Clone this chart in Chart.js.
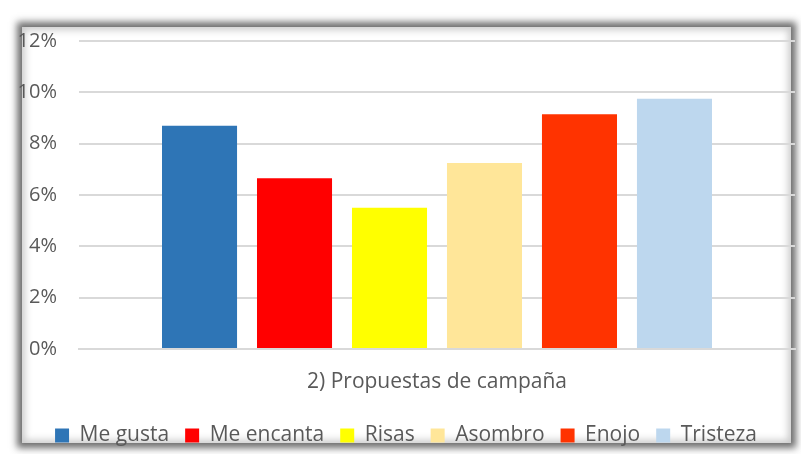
<!DOCTYPE html>
<html>
<head>
<meta charset="utf-8">
<script src="https://cdn.jsdelivr.net/npm/chart.js@4"></script>
<style>
  html, body { margin: 0; padding: 0; background: #fff; }
  #wrap { position: relative; width: 801px; height: 454px; overflow: hidden; }
  #frame {
    position: absolute; left: 22px; top: 27px; width: 769px; height: 416px;
    background: #fff;
    box-shadow: 0 0 7px 5px rgba(85,85,85,0.85), inset 0 0 7px 3px rgba(140,140,140,0.45);
  }
  #myChart { position: absolute; left: 0; top: 0; }
</style>
</head>
<body>
<div id="wrap">
  <div id="frame"></div>
  <canvas id="myChart" width="801" height="454"></canvas>
</div>
<script>
// datos (porcentajes)
const categories = ['2) Propuestas de campaña'];
const seriesNames = ['Me gusta', 'Me encanta', 'Risas', 'Asombro', 'Enojo', 'Tristeza'];
const seriesValues = [8.7, 6.65, 5.5, 7.25, 9.15, 9.75];
const seriesColors = ['#2E75B6', '#FF0000', '#FFFF00', '#FFE699', '#FF3300', '#BDD7EE'];
const yTicks = [0, 2, 4, 6, 8, 10, 12];

const txt = '#595959';
const fontFamily = '"Open Sans", "Liberation Sans", sans-serif';

const ctx = document.getElementById('myChart');

new Chart(ctx, {
  type: 'bar',
  data: {
    labels: categories,
    datasets: seriesNames.map((name, i) => ({
      label: name,
      data: [seriesValues[i]],
      backgroundColor: seriesColors[i],
      borderWidth: 0,
      categoryPercentage: 0.796,
      barPercentage: 0.79
    }))
  },
  options: {
    responsive: false,
    animation: false,
    layout: { padding: { left: 17, right: 6, top: 41, bottom: -2 } },
    scales: {
      x: {
        afterFit: axis => { axis.height = 60; },
        grid: { display: false, drawTicks: false },
        border: { display: true, color: '#d9d9d9', width: 2 },
        ticks: { color: txt, font: { family: fontFamily, size: 21 }, padding: 20.5 }
      },
      y: {
        min: 0,
        max: 12,
        afterBuildTicks: axis => { axis.ticks = yTicks.map(v => ({ value: v })); },
        afterFit: axis => { axis.width = 62; },
        grid: { color: '#d9d9d9', lineWidth: 2, drawTicks: false },
        border: { display: false },
        ticks: {
          color: txt,
          font: { family: fontFamily, size: 20 },
          padding: 22,
          callback: v => v + '%'
        }
      }
    },
    plugins: {
      legend: {
        position: 'bottom',
        labels: {
          color: txt,
          font: { family: fontFamily, size: 21 },
          boxWidth: 14,
          boxHeight: 14,
          padding: 16
        }
      },
      tooltip: { enabled: false }
    }
  }
});
</script>
</body>
</html>
